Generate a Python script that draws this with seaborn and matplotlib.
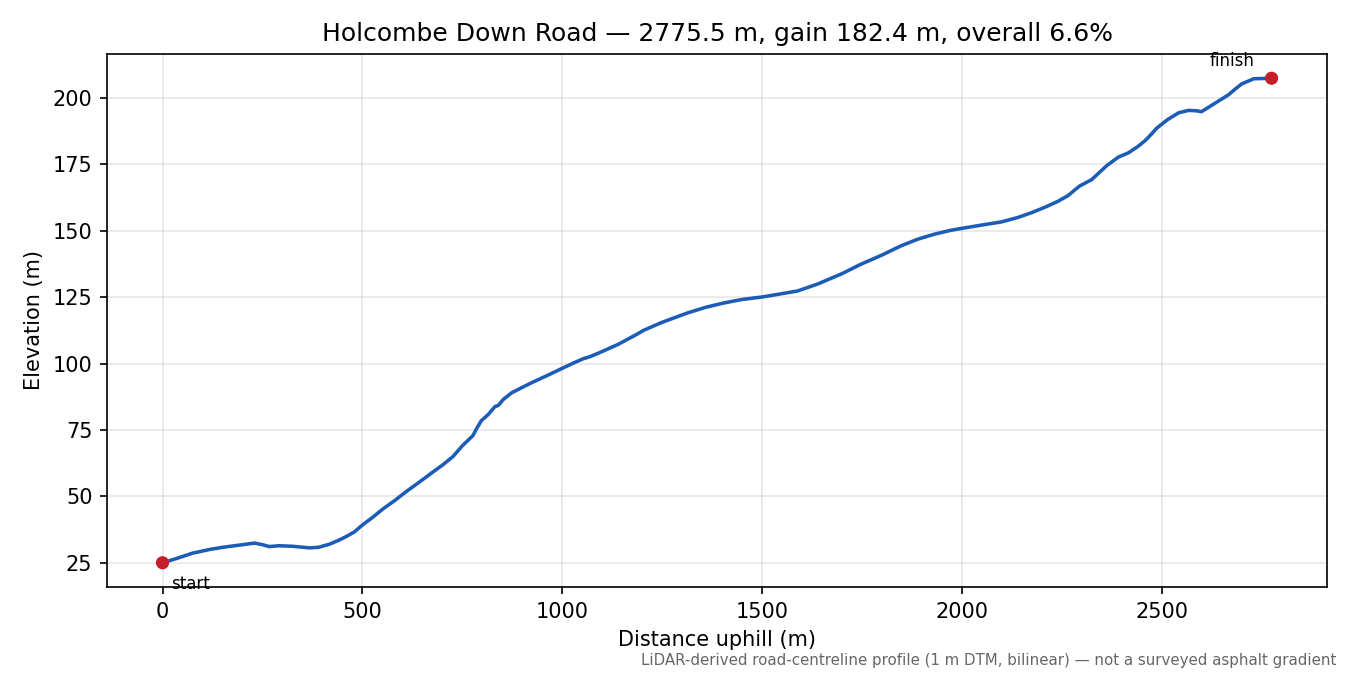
import matplotlib
matplotlib.use("Agg")
import matplotlib.pyplot as plt
import seaborn as sns

road_name = "Holcombe Down Road"

# distance along road (m) and elevation (m)
distance = [0, 33, 75, 118, 150, 190, 230, 250, 267, 292, 326, 368, 390, 418, 443,
            460, 480, 501, 525, 552, 580, 610, 644, 677, 700, 727, 750, 777, 786, 798,
            815, 832, 840, 853, 874, 900, 924, 960, 999, 1030, 1053, 1070, 1100, 1140,
            1187, 1204, 1250, 1313, 1360, 1405, 1450, 1503, 1550, 1589, 1639, 1700,
            1748, 1800, 1848, 1890, 1932, 1974, 2005, 2057, 2099, 2141, 2175, 2208,
            2240, 2266, 2285, 2296, 2325, 2363, 2392, 2417, 2440, 2459, 2475, 2488,
            2515, 2543, 2568, 2590, 2600, 2634, 2668, 2685, 2701, 2731, 2775.5]
elevation = [25.0, 26.5, 28.6, 30.0, 30.8, 31.6, 32.4, 31.8, 31.1, 31.4, 31.2, 30.6, 30.8,
             32.0, 33.6, 34.9, 36.6, 39.3, 42.0, 45.3, 48.3, 51.8, 55.5, 59.2, 61.7, 65.0,
             69.0, 72.9, 75.5, 78.5, 80.8, 83.8, 84.2, 86.5, 89.0, 91.0, 92.8, 95.3, 98.1,
             100.3, 101.8, 102.6, 104.5, 107.2, 111.0, 112.5, 115.5, 119.0, 121.2, 122.8,
             124.1, 125.1, 126.3, 127.3, 129.9, 133.8, 137.4, 140.8, 144.3, 146.8, 148.7,
             150.2, 151.0, 152.3, 153.3, 155.0, 156.8, 158.8, 161.0, 163.2, 165.6, 166.9,
             169.2, 174.5, 177.7, 179.3, 181.6, 183.9, 186.4, 188.6, 191.8, 194.4, 195.3,
             195.1, 194.8, 198.0, 201.2, 203.4, 205.3, 207.2, 207.4]

length = distance[-1]
gain = elevation[-1] - elevation[0]
overall = gain / length * 100

fig, ax = plt.subplots(figsize=(9, 4.5), dpi=150)
sns.lineplot(x=distance, y=elevation, color="#1c5cb6", lw=1.7, ax=ax)
sns.scatterplot(x=[distance[0], distance[-1]], y=[elevation[0], elevation[-1]],
                color="#c41e2a", s=40, edgecolor="none", zorder=3, ax=ax)

ax.annotate("start", (distance[0], elevation[0]), xytext=(4, -6),
            textcoords="offset points", ha="left", va="top", fontsize=8)
ax.annotate("finish", (distance[-1], elevation[-1]), xytext=(-8, 4),
            textcoords="offset points", ha="right", va="bottom", fontsize=8)

ax.set_title(f"{road_name} \u2014 {length:.1f} m, gain {gain:.1f} m, overall {overall:.1f}%")
ax.set_xlabel("Distance uphill (m)")
ax.set_ylabel("Elevation (m)")
ax.grid(alpha=0.3)

fig.text(0.99, 0.01, "LiDAR-derived road-centreline profile (1 m DTM, bilinear) \u2014 not a surveyed asphalt gradient",
         ha="right", va="bottom", fontsize=7.2, color="#666666")

plt.subplots_adjust(left=0.0793, right=0.983, top=0.92, bottom=0.1304)
plt.savefig("out.png")
